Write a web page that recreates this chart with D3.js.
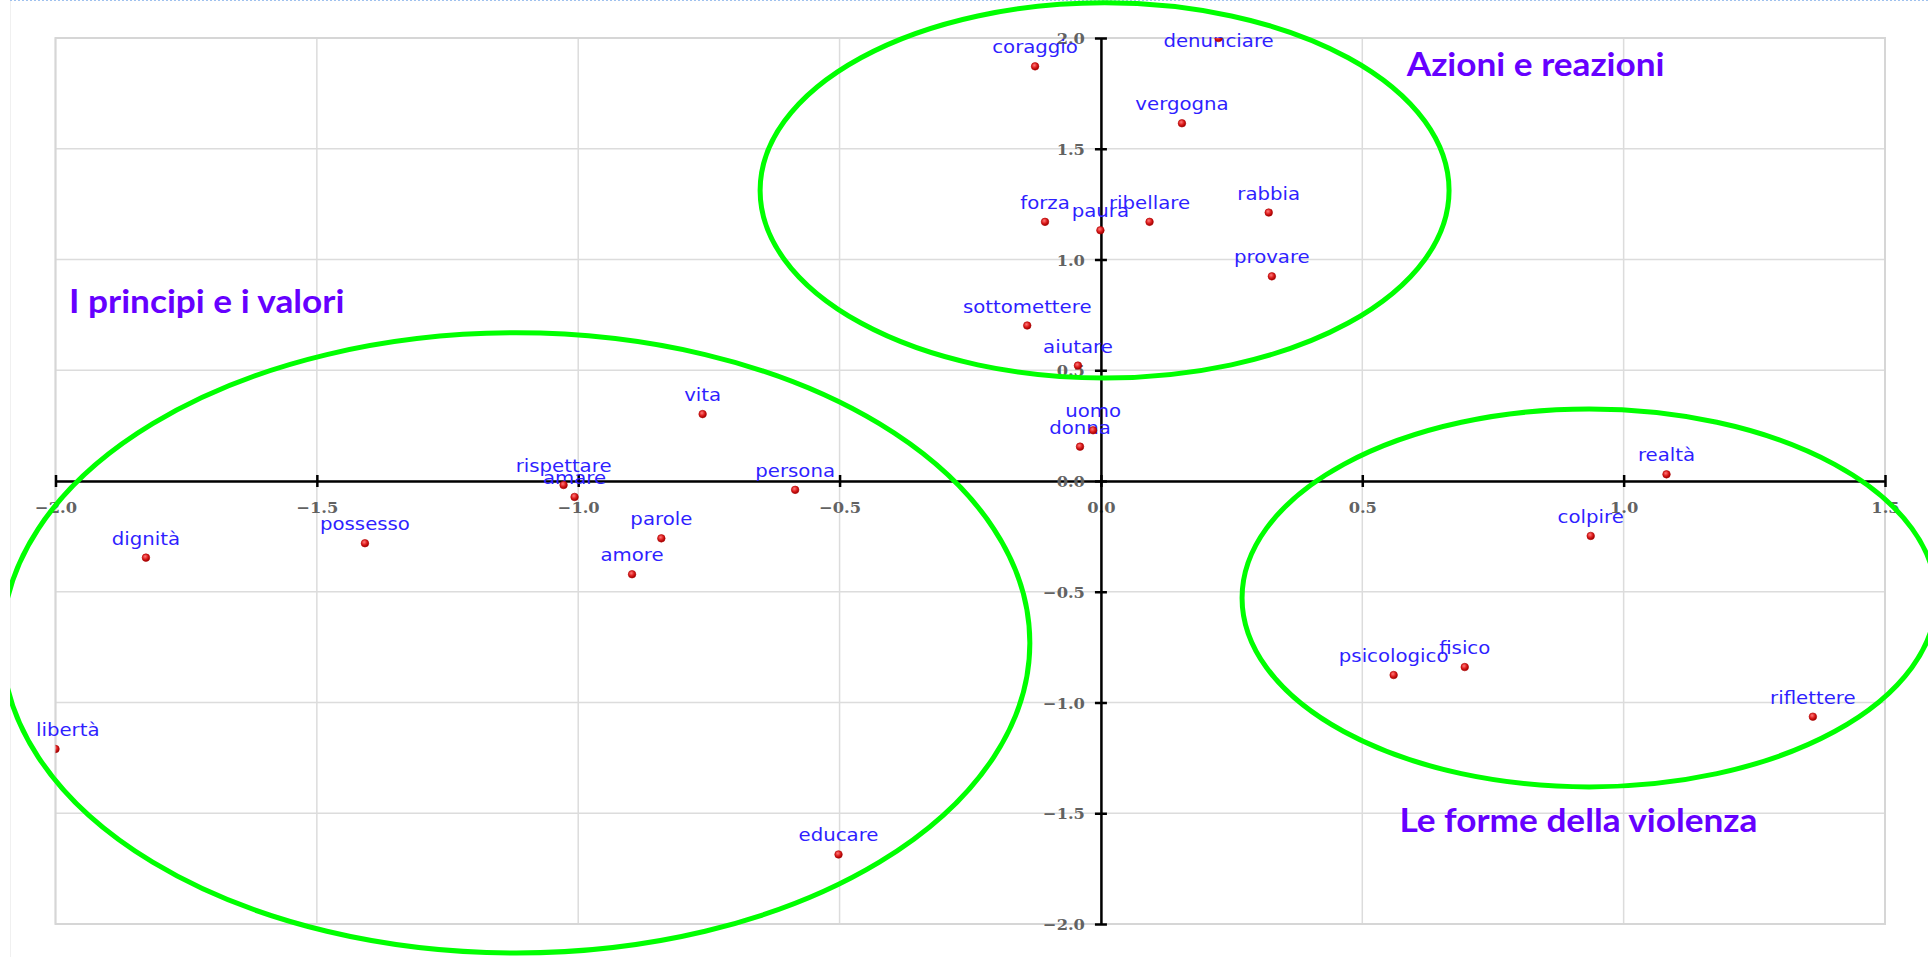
<!DOCTYPE html>
<html>
<head>
<meta charset="utf-8">
<script src="https://cdn.jsdelivr.net/npm/d3@7"></script>
<style>
  html, body { margin: 0; padding: 0; background: #ffffff; }
  svg { display: block; }
</style>
</head>
<body>
<svg id="chart" width="1928" height="957"></svg>
<script>
// ---------------- DATA ----------------
const words = ["coraggio","denunciare","vergogna","forza","paura","ribellare","rabbia","provare",
  "sottomettere","aiutare","uomo","donna","vita","rispettare","amare","persona","dignità",
  "possesso","parole","amore","libertà","educare","realtà","colpire","psicologico","fisico","riflettere"];
const coordX = [-0.126, 0.225, 0.155, -0.107, -0.001, 0.093, 0.321, 0.327,
  -0.141, -0.044, -0.015, -0.040, -0.762, -1.028, -1.007, -0.585, -1.827,
  -1.408, -0.841, -0.897, -2.000, -0.502, 1.082, 0.937, 0.560, 0.696, 1.362];
const coordY = [1.872, 2.000, 1.615, 1.170, 1.132, 1.170, 1.212, 0.924,
  0.702, 0.521, 0.229, 0.155, 0.302, -0.018, -0.072, -0.040, -0.346,
  -0.281, -0.259, -0.421, -1.210, -1.686, 0.030, -0.248, -0.876, -0.840, -1.064];

const xTicks = [-2.0, -1.5, -1.0, -0.5, 0.0, 0.5, 1.0, 1.5];
const yTicks = [-2.0, -1.5, -1.0, -0.5, 0.0, 0.5, 1.0, 1.5, 2.0];

// clusters (in data units)
const clusterNames = ["Azioni e reazioni", "I principi e i valori", "Le forme della violenza"];
const clusterCX = [0.007, -1.119, 0.934];
const clusterCY = [1.312, -0.731, -0.528];
const clusterRX = [0.659, 0.983, 0.664];
const clusterRY = [0.847, 1.400, 0.853];
const titleX = [0.585, -1.974, 0.571];
const titleY = [1.828, 0.758, -1.585];

// ---------------- LAYOUT ----------------
const W = 1928, H = 957;
const svg = d3.select("#chart");
const x = d3.scaleLinear().domain([-2, 1.5]).range([55.5, 1885]);
const y = d3.scaleLinear().domain([-2, 2]).range([924, 38]);
const [pl, pr] = x.range();
const [pb, pt] = y.range();
const SX = 1.16;      // horizontal text stretch of the original picture

const defs = svg.append("defs");
defs.append("clipPath").attr("id", "pageClip")
  .append("rect").attr("x", 10).attr("y", 0).attr("width", W - 10).attr("height", H);
defs.append("clipPath").attr("id", "plotClip")
  .append("rect").attr("x", pl).attr("y", pt).attr("width", pr - pl).attr("height", pb - pt);
const grad = defs.append("radialGradient").attr("id", "ball")
  .attr("cx", "40%").attr("cy", "35%").attr("r", "65%");
grad.append("stop").attr("offset", "0%").attr("stop-color", "#ff7a7a");
grad.append("stop").attr("offset", "55%").attr("stop-color", "#dd1c1c");
grad.append("stop").attr("offset", "100%").attr("stop-color", "#9a0000");

// page frame details
svg.append("line").attr("x1", 10.5).attr("x2", 10.5).attr("y1", 0).attr("y2", H)
  .attr("stroke", "#f0f0f0").attr("stroke-width", 1);
svg.append("line").attr("x1", 10).attr("x2", W).attr("y1", 0.5).attr("y2", 0.5)
  .attr("stroke", "#9fc1ee").attr("stroke-width", 1).attr("stroke-dasharray", "2,2");

// grid
const grid = svg.append("g");
grid.selectAll("line.v").data(xTicks).join("line")
  .attr("x1", d => x(d)).attr("x2", d => x(d)).attr("y1", pt).attr("y2", pb)
  .attr("stroke", "#dcdcdc").attr("stroke-width", 1.5);
grid.selectAll("line.h").data(yTicks).join("line")
  .attr("x1", pl).attr("x2", pr).attr("y1", d => y(d)).attr("y2", d => y(d))
  .attr("stroke", "#dcdcdc").attr("stroke-width", 1.5);
grid.append("rect").attr("x", pl).attr("y", pt).attr("width", pr - pl).attr("height", pb - pt)
  .attr("fill", "none").attr("stroke", "#d6d6d6").attr("stroke-width", 2);

// axes
const fmt = d3.format(".1f");
const tickFont = "'DejaVu Serif', serif";
const xAxis = svg.append("g").attr("transform", `translate(0,${y(0)})`)
  .call(d3.axisBottom(x).tickValues(xTicks).tickFormat(fmt).tickSizeOuter(0).tickSizeInner(6));
const yAxis = svg.append("g").attr("transform", `translate(${x(0)},0)`)
  .call(d3.axisLeft(y).tickValues(yTicks).tickFormat(fmt).tickSizeOuter(0).tickSizeInner(6));
[xAxis, yAxis].forEach(g => {
  g.select(".domain").attr("stroke", "#000").attr("stroke-width", 2.5);
  g.selectAll(".tick line").attr("stroke", "#000").attr("stroke-width", 2.5);
  g.selectAll(".tick text").attr("fill", "#626262").attr("font-family", tickFont)
    .attr("font-weight", "bold").attr("font-size", 15.5);
});
xAxis.selectAll(".tick line").attr("y1", -6).attr("y2", 6);
xAxis.selectAll(".tick text").attr("y", 0).attr("dy", 0)
  .attr("transform", "translate(0,31.5) scale(1.05,1)");
yAxis.selectAll(".tick line").attr("x1", -6).attr("x2", 6);
yAxis.selectAll(".tick text").attr("x", 0).attr("dy", "0.36em")
  .attr("transform", "translate(-16,0) scale(1.05,1)");

// labels
const pts = words.map((w, i) => ({ w, px: x(coordX[i]), py: y(coordY[i]) }));
const labels = svg.append("g");
labels.selectAll("text").data(pts).join("text")
  .attr("text-anchor", "middle")
  .attr("font-family", "'DejaVu Sans', Verdana, sans-serif")
  .attr("font-size", 17)
  .attr("fill", "#2f1fff")
  .text(d => d.w)
  .attr("transform", function (d) {
    const half = this.getComputedTextLength() * SX / 2;
    const cx = Math.max(d.px, 36 + half);
    const by = Math.max(d.py - 13, pt + 9);
    return `translate(${cx},${by}) scale(${SX},1)`;
  });

// points
svg.append("g").attr("clip-path", "url(#plotClip)")
  .selectAll("circle").data(pts).join("circle")
  .attr("cx", d => d.px).attr("cy", d => d.py).attr("r", 3.8)
  .attr("fill", "url(#ball)").attr("stroke", "#b00000").attr("stroke-width", 0.6);

// cluster ellipses
svg.append("g").attr("clip-path", "url(#pageClip)")
  .selectAll("ellipse").data(clusterNames).join("ellipse")
  .attr("cx", (d, i) => x(clusterCX[i]))
  .attr("cy", (d, i) => y(clusterCY[i]))
  .attr("rx", (d, i) => x(clusterRX[i]) - x(0))
  .attr("ry", (d, i) => y(0) - y(clusterRY[i]))
  .attr("fill", "none").attr("stroke", "#00ff00").attr("stroke-width", 5);

// cluster titles
svg.append("g").selectAll("text").data(clusterNames).join("text")
  .attr("font-family", "Lato, 'Open Sans', sans-serif")
  .attr("font-weight", "bold")
  .attr("font-size", 32)
  .attr("fill", "#6600ff")
  .attr("transform", (d, i) => `translate(${x(titleX[i])},${y(titleY[i])}) scale(1.1,1)`)
  .text(d => d);
</script>
</body>
</html>
